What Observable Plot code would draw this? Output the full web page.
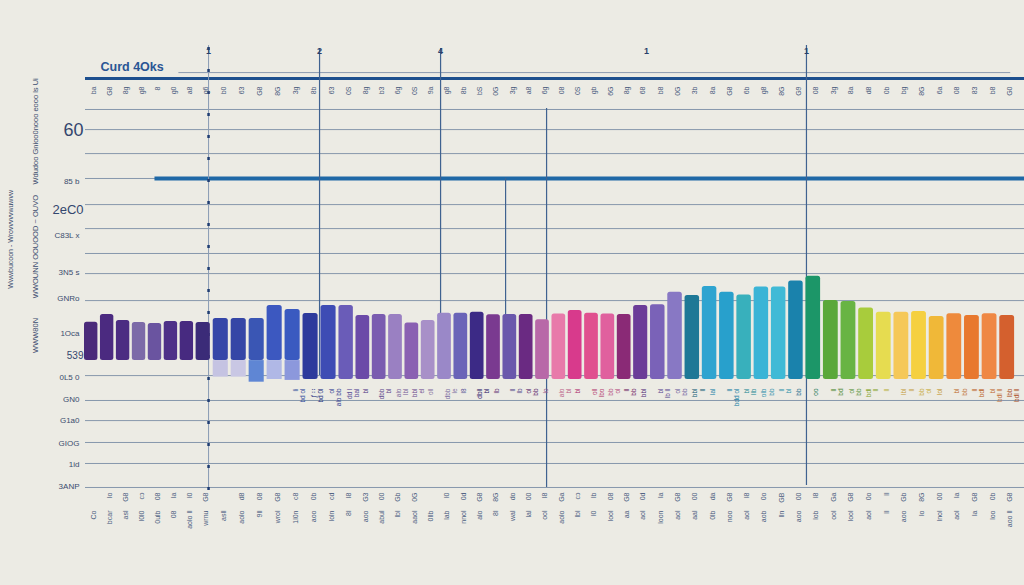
<!DOCTYPE html>
<html><head><meta charset="utf-8">
<script src="https://cdn.jsdelivr.net/npm/d3@7"></script>
<script src="https://cdn.jsdelivr.net/npm/@observablehq/plot@0.6"></script>
<style>
html,body{margin:0;padding:0;background:#ecebe4;}
#chart svg{display:block;}
</style></head><body><div id="chart"></div>
<script>
// ---- data ----
const barIds = d3.range(1, 56);
const barTops = [19.1,21.7,19.7,19.0,18.7,19.3,19.3,19.0,20.3,20.3,20.3,24.7,23.3,22.0,24.7,24.7,21.3,21.7,21.7,18.8,19.7,22.1,22.1,22.4,21.6,21.7,21.7,19.9,21.8,23.0,22.1,21.8,21.7,24.7,24.9,29.1,28.0,31.0,29.1,28.2,30.8,30.8,32.8,34.4,26.3,26.0,23.8,22.4,22.4,22.7,21.0,21.9,21.3,21.9,21.3];
const barBases = [6.3,6.3,6.3,6.3,6.3,6.3,6.3,6.3,6.3,6.3,6.3,6.3,6.3,0,0,0,0,0,0,0,0,0,0,0,0,0,0,0,0,0,0,0,0,0,0,0,0,0,0,0,0,0,0,0,0,0,0,0,0,0,0,0,0,0,0];
const barColors = ["#4a2a7a","#4b2a80","#4c2c82","#7c6aa8","#6a54a0","#4e3088","#472a80","#3b2b78","#3546a8","#3546a6","#3a56b4","#3c58c0","#3a5ac0","#2d3a9c","#3e4cb4","#6a5cb8","#6b4aa8","#7a5cb0","#9a80c2","#8a60b2","#a890c8","#9a88c8","#6a64b8","#3c2a86","#7a3a90","#6a58ac","#6a2a82","#b868a8","#e87aaa","#d83a8c","#e0508f","#e0609e","#8a2a76","#6b3c98","#7a62b8","#8878c4","#1e7896","#2ea4d0","#28a0cc","#38b0bc","#3ab4d6","#40bad6","#1a82ac","#1c9668","#5aa83a","#68b444","#a8cc3c","#e6dc50","#f5c858","#f5d040","#f0b838","#ee8a3c","#e8782e","#ef8844","#d4602e"];
// lighter lower pieces under bars 9-13
const extIds = [9,10,11,12,13];
const extTops = [6.3,6.3,6.3,6.3,6.3];
const extBases = [0.8,0.8,-0.9,0,-0.3];
const extColors = ["#c5c3e2","#c9c7e4","#5f86d4","#b0b8e6","#8c98dc"];

// horizontal grid values, tick labels
const gridVals = [90,83.3,75.3,67,58.3,50.3,42,35.3,26.3,1.3,-7,-13.7,-21,-28,-36];
const topAxisVal = [100.3];
const upperThinVal = [102.3];
const thickVal = [67];
const yTickVals = [66,48,35.7,27,15.3,0.7,-6.7,-13.7,-21.3,-28.3,-35.7];
const yTickLabels = ["85 b","C83L x","3N5 s","GNRo","1Oca","0L5 0","GN0","G1a0","GIOG","1id","3ANP"];
const yBigVals = [83,56.7,8];
const yBigLabels = ["60","2eC0","539"];

// vertical reference lines (bar-index position, value extents)
const vPos = [14.5,21.76,25.74,28.25,43.61];
const vLow = [1.3,0,2.3,-36,-35.3];
const vHigh = [110.3,110.3,67,90.3,111.3];
const dottedPos = [8.32];
const dottedLow = [-37];
const dottedHigh = [111.3];
const topNumPos = [8.32,14.5,21.76,34.35,43.61];
const topNumLabels = ["1","2","4","1","1"];

const titleText = "Curd 4Oks";
const sideTitleVals = [82.7,44.3,14.7];
const sideTitles = ["Wdudoo Gnioo0nooo eooo ls Ui","WWOUNN OOUOOD ~ OUVO","WWW80N"];
const farSideVals = [46.7];
const farSideTitles = ["Wwwbucoon - Wrovvvvvwuwvw"];

const topLabels = ["ba","G8","8g","g8","8","g0","a8","g6","b0","63","G8","8G","3g","8b","63","0S","8g","b3","6g","0S","9a","g8","8b","bS","0G","3g","a8","6g","08","0S","gb","6G","8g","68","b8","0G","3b","8a","G8","6b","g8","8G","G9","08","3g","8a","d8","0b","bg","8G","6a","08","83","b8","G0"];
const belowLabels = ["","","","","","","","","","","","","li\nbd ol","ƒ ∷\nbd 0l","ol\nalo bb","dd l\nbal","bl","dbb\nbl","alo\nlbl","bbl\nel","oll","dbb\nle","l8","dbll\nbl","lb","ll\nlb","ol\nbb","lo","alo\nbl","bl","oll\nlbo","bb\nol","ll\nbb","bbl","bl\nlb ll","ol\nbb","bbl\nll","lal","ll\nbdd ol","bl\nllb","olb\nbb","ll\nbl","bb","oo","ll\nbd","ol\nbb","bdl\nll","ll","lbl\nll","bb\nol","lol","bl\nbb","ll\nbdl","bl\nbdl ll","lbb\nbdl ll"];
const bottomRow1 = ["","Io","G8","cɔ","08","Ia","l0","G8","","d8","08","G8","c8","0b","cd","I8","G3","00","Gb","0G","","l0","0d","G8","8G","do","00","I8","Ga","cɔ","lb","08","G8","0d","la","G8","00","da","G8","l8","0o","GB","00","l8","Ga","G8","0o","ll","Gb","8G","00","la","G8","0b","G8"];
const bottomRow2 = ["Co","bcar","asl","l0l0","0ulb","08","aolo ll","wrnu","asll","aolo","9ll","wrol","1l0n","aoo","loln","8l","aoo","abul","lbl","aaol","0llb","lab","nnol","alo","8l","wal","lal","ool","aolo","lbl","l0","lool","aa","aol","loon","aol","aal","0lb","noo","aol","aob","lln","aoo","lob","ool","lool","aol","ll","aoo","lo","lnol","aol","la","loo","aoo ll"];

// ---- chart ----
const ink = "#3b4c6e";
const chart = Plot.plot({
  width: 1024, height: 585,
  marginLeft: 85, marginRight: 0, marginTop: 0, marginBottom: 0,
  style: {background: "#ecebe4", fontFamily: "Liberation Sans, Arial, sans-serif", overflow: "visible"},
  x: {type: "linear", domain: [1,8,16,34,44,55], range: [90.7,202.3,346,640,812.7,1006.7], axis: null},
  y: {domain: [-68.67, 126.33], axis: null},
  marks: [
    Plot.ruleY(gridVals, {stroke: "#7689a2", strokeWidth: 1, strokeOpacity: 0.85}),
    Plot.ruleY(upperThinVal, {x1: 6.5, x2: 55.2, stroke: "#8a9ab0", strokeWidth: 1}),
    Plot.ruleY(topAxisVal, {stroke: "#1d4f8e", strokeWidth: 3}),
    Plot.ruleY(thickVal, {x1: 5, x2: 58, stroke: "#1f68a6", strokeWidth: 4}),
    Plot.ruleX(vPos, {x: d => d, y1: (d, i) => vLow[i], y2: (d, i) => vHigh[i], stroke: "#3f6290", strokeWidth: 1.2}),
    Plot.ruleX(dottedPos, {x: d => d, y1: (d, i) => dottedLow[i], y2: (d, i) => dottedHigh[i], stroke: "#8a9cb4", strokeWidth: 1}),
    Plot.ruleX(dottedPos, {x: d => d, y1: (d, i) => dottedLow[i], y2: (d, i) => dottedHigh[i], stroke: "#1e3c72", strokeWidth: 2.5, strokeDasharray: "3,19"}),
    Plot.rect(extIds, {x1: d => d - 0.42, x2: d => d + 0.42, y1: (d, i) => extBases[i], y2: (d, i) => extTops[i], fill: (d, i) => extColors[i]}),
    Plot.rect(barIds, {x1: d => d - 0.42, x2: d => d + 0.42, y1: (d, i) => barBases[i], y2: (d, i) => barTops[i], fill: (d, i) => barColors[i], rx: 2.5}),
    // y tick labels
    Plot.text(yTickVals, {y: d => d, text: (d, i) => yTickLabels[i], frameAnchor: "left", dx: -6, textAnchor: "end", fontSize: 8, fill: ink}),
    Plot.text(yBigVals, {y: d => d, text: (d, i) => yBigLabels[i], frameAnchor: "left", dx: -2, textAnchor: "end", fontSize: (d, i) => [18, 13, 10][i], fill: "#33466e"}),
    // side titles
    Plot.text(sideTitleVals, {y: d => d, text: (d, i) => sideTitles[i], frameAnchor: "left", dx: -50, rotate: -90, textAnchor: "middle", fontSize: 7.5, fill: ink}),
    Plot.text(farSideVals, {y: d => d, text: (d, i) => farSideTitles[i], frameAnchor: "left", dx: -75, rotate: -90, textAnchor: "middle", fontSize: 7, fill: ink}),
    // title
    Plot.text([titleText], {frameAnchor: "top-left", dx: 15, dy: 62, textAnchor: "start", fontSize: 12.5, fontWeight: "bold", fill: "#2a5594", fontFamily: "Liberation Sans Narrow, Liberation Sans, Arial, sans-serif"}),
    // top numbers
    Plot.text(topNumPos, {x: d => d, text: (d, i) => topNumLabels[i], frameAnchor: "top", dy: 47, fontSize: 9, fontWeight: "bold", fill: "#2a3f6a"}),
    // top row category labels
    Plot.text(barIds, {x: d => d, text: (d, i) => topLabels[i], frameAnchor: "top", dy: 86, rotate: -90, textAnchor: "end", fontSize: 7, fill: "#46587c"}),
    // labels below bars
    Plot.text(barIds, {x: d => d, text: (d, i) => belowLabels[i], frameAnchor: "top", dy: 388, rotate: -90, textAnchor: "end", fontSize: 6.5, lineHeight: 1.1, fill: (d, i) => d3.color(barColors[i]).darker(0.6).formatHex()}),
    // bottom labels
    Plot.text(barIds, {x: d => d, text: (d, i) => bottomRow1[i], frameAnchor: "top", dy: 492, rotate: -90, textAnchor: "end", fontSize: 7, fill: "#4a5c80"}),
    Plot.text(barIds, {x: d => d, text: (d, i) => bottomRow2[i], frameAnchor: "top", dy: 510, rotate: -90, textAnchor: "end", fontSize: 7, fill: "#4a5c80"})
  ]
});
document.getElementById("chart").appendChild(chart);
</script>
</body></html>
